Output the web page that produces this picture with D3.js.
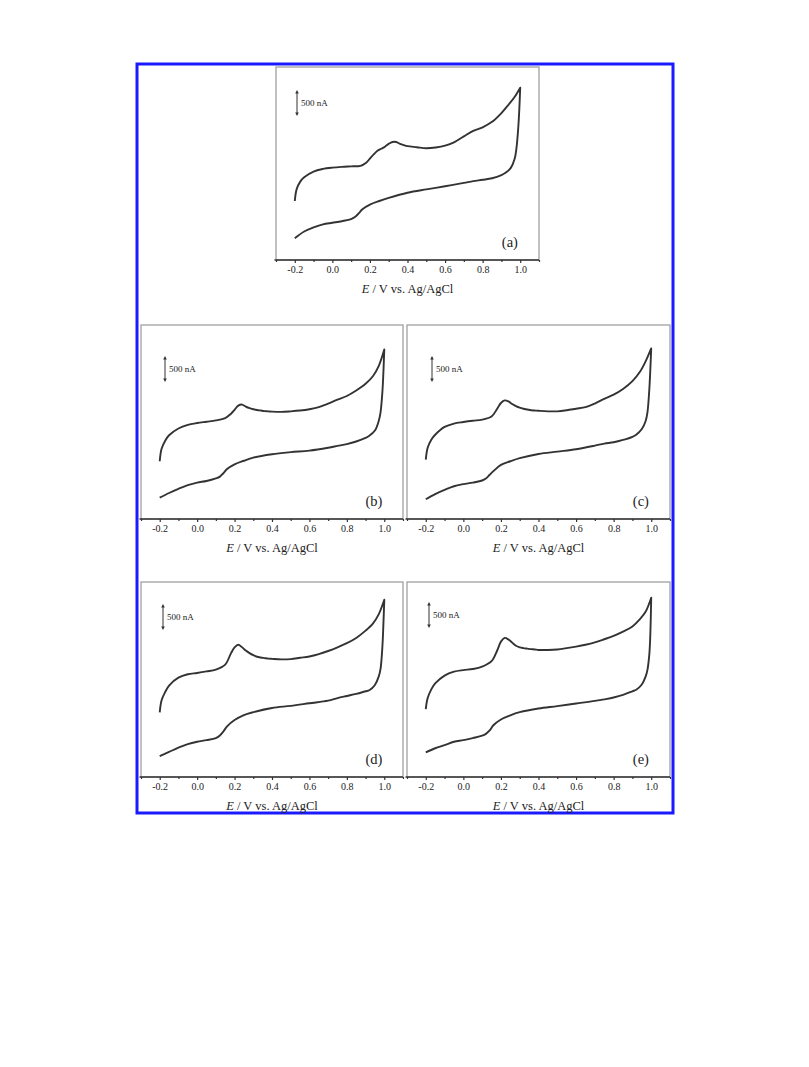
<!DOCTYPE html>
<html><head><meta charset="utf-8">
<script src="https://cdn.jsdelivr.net/npm/d3@7"></script>
<style>body{margin:0;background:#fff}</style>
</head><body><svg id="chart" width="809" height="1067"></svg>
<script>
// Potential grids (V vs. Ag/AgCl)
const fwdE = [-0.2,-0.19,-0.17,-0.15,-0.1,-0.05,0,0.05,0.1,0.15,0.18,0.2,0.22,0.24,0.26,0.28,0.3,0.32,0.34,0.36,0.38,0.4,0.45,0.5,0.55,0.6,0.65,0.7,0.75,0.8,0.85,0.9,0.94,0.97,1.0];
const revE = [1.0,0.995,0.99,0.98,0.97,0.95,0.92,0.9,0.85,0.8,0.75,0.7,0.6,0.5,0.4,0.3,0.25,0.2,0.16,0.14,0.12,0.1,0.05,0,-0.05,-0.1,-0.15,-0.2];

// Currents (µA, relative) — forward (anodic) and reverse (cathodic) scans
const aFwd = [-0.46,-0.23,-0.08,0.0,0.11,0.16,0.185,0.2,0.21,0.22,0.28,0.36,0.44,0.51,0.55,0.59,0.645,0.68,0.68,0.645,0.62,0.6,0.58,0.56,0.575,0.61,0.68,0.79,0.895,0.965,1.07,1.24,1.41,1.55,1.73];
const aRev = [1.73,1.3,0.98,0.56,0.35,0.18,0.08,0.04,-0.02,-0.05,-0.075,-0.11,-0.175,-0.235,-0.3,-0.4,-0.46,-0.53,-0.62,-0.7,-0.77,-0.81,-0.85,-0.88,-0.91,-0.97,-1.05,-1.18];
const bFwd = [-0.49,-0.25,-0.09,0.01,0.14,0.21,0.245,0.27,0.295,0.34,0.42,0.5,0.58,0.6,0.56,0.53,0.51,0.495,0.485,0.475,0.47,0.465,0.46,0.47,0.485,0.51,0.55,0.62,0.695,0.765,0.87,1.0,1.15,1.34,1.66];
const bRev = [1.66,1.2,0.85,0.45,0.28,0.1,0.0,-0.04,-0.11,-0.16,-0.195,-0.23,-0.285,-0.315,-0.355,-0.42,-0.48,-0.55,-0.64,-0.72,-0.79,-0.82,-0.87,-0.9,-0.95,-1.02,-1.1,-1.19];
const cFwd = [-0.46,-0.23,-0.07,0.02,0.17,0.235,0.265,0.29,0.31,0.37,0.52,0.63,0.68,0.66,0.61,0.57,0.54,0.52,0.505,0.49,0.485,0.48,0.47,0.47,0.49,0.52,0.55,0.62,0.71,0.79,0.9,1.05,1.23,1.43,1.68];
const cRev = [1.68,1.25,0.9,0.45,0.28,0.13,0.02,-0.02,-0.08,-0.125,-0.15,-0.19,-0.26,-0.305,-0.35,-0.43,-0.49,-0.56,-0.68,-0.75,-0.82,-0.86,-0.9,-0.93,-0.97,-1.04,-1.12,-1.22];
const dFwd = [-0.365,-0.13,0.03,0.15,0.3,0.365,0.39,0.42,0.455,0.55,0.76,0.88,0.93,0.88,0.82,0.77,0.73,0.7,0.685,0.675,0.665,0.66,0.65,0.655,0.68,0.705,0.75,0.81,0.88,0.96,1.06,1.2,1.34,1.51,1.79];
const dRev = [1.79,1.3,0.9,0.47,0.32,0.16,0.06,0.04,-0.01,-0.05,-0.09,-0.14,-0.19,-0.24,-0.28,-0.36,-0.415,-0.51,-0.63,-0.73,-0.81,-0.855,-0.895,-0.925,-0.97,-1.04,-1.12,-1.2];
const eFwd = [-0.3,-0.09,0.08,0.19,0.34,0.415,0.445,0.465,0.51,0.615,0.82,0.99,1.06,1.03,0.97,0.91,0.88,0.865,0.855,0.845,0.84,0.83,0.83,0.84,0.865,0.895,0.93,0.975,1.035,1.1,1.18,1.28,1.42,1.56,1.83];
const eRev = [1.83,1.1,0.75,0.45,0.32,0.17,0.07,0.04,-0.03,-0.08,-0.115,-0.145,-0.195,-0.245,-0.29,-0.36,-0.42,-0.5,-0.61,-0.71,-0.775,-0.81,-0.855,-0.895,-0.925,-0.99,-1.05,-1.13];

const panelLabels = ["(a)","(b)","(c)","(d)","(e)"];
const majorTicks = [-0.2,0.0,0.2,0.4,0.6,0.8,1.0];
const minorTicks = [-0.3,-0.1,0.1,0.3,0.5,0.7,0.9,1.1];
const xDomain = [-0.3,1.1];
const yDomain = [-1.6,2.13];
const scaleBarValue = 0.5;   // µA
const scaleBarText = "500 nA";
const labelE = 0.945;

const series = [[aFwd,aRev],[bFwd,bRev],[cFwd,cRev],[dFwd,dRev],[eFwd,eRev]];

// layout
const frames = [
  {x0:276,x1:539,y0:67,y1:260,bx:297,by:103},
  {x0:141,x1:403,y0:325,y1:519,bx:165,by:369},
  {x0:407,x1:670,y0:325,y1:519,bx:432,by:369},
  {x0:141,x1:403,y0:582,y1:777,bx:163,by:617},
  {x0:407,x1:670,y0:582,y1:777,bx:429,by:615}
];

const svg = d3.select("#chart");
svg.append("rect").attr("x",137).attr("y",64).attr("width",536).attr("height",749)
  .attr("fill","none").attr("stroke","#1a1aff").attr("stroke-width",3);

const serif = "'Liberation Serif','Times New Roman',serif";

frames.forEach((f,i)=>{
  const g = svg.append("g");
  const x = d3.scaleLinear().domain(xDomain).range([f.x0,f.x1]);
  const y = d3.scaleLinear().domain(yDomain).range([f.y1,f.y0]);
  // frame
  g.append("rect").attr("x",f.x0).attr("y",f.y0).attr("width",f.x1-f.x0).attr("height",f.y1-f.y0)
    .attr("fill","none").attr("stroke","#a0a0a0").attr("stroke-width",1.3);
  // x axis (major)
  const axMaj = d3.axisBottom(x).tickValues(majorTicks).tickSize(3).tickSizeOuter(0)
    .tickFormat(d3.format(".1f"));
  const ga = g.append("g").attr("transform",`translate(0,${f.y1})`).call(axMaj);
  ga.select(".domain").attr("stroke","#333").attr("stroke-width",1.3).attr("d",`M${f.x0-1.5},0H${f.x1}`);
  ga.selectAll(".tick line").attr("stroke","#333").attr("stroke-width",1.2);
  ga.selectAll(".tick text").attr("font-family",serif).attr("font-size",10).attr("fill","#222")
    .attr("y",6).text(d=>d3.format(".1f")(d).replace("−","-"));
  // minor ticks
  const axMin = d3.axisBottom(x).tickValues(minorTicks).tickSize(2).tickFormat("");
  const gm = g.append("g").attr("transform",`translate(0,${f.y1})`).call(axMin);
  gm.select(".domain").remove();
  gm.selectAll(".tick line").attr("stroke","#333").attr("stroke-width",1.2);
  // axis title
  const t = g.append("text").attr("x",(f.x0+f.x1)/2).attr("y",f.y1+33).attr("text-anchor","middle")
    .attr("font-family",serif).attr("font-size",12.5).attr("fill","#222");
  t.append("tspan").attr("font-style","italic").text("E");
  t.append("tspan").text(" / V vs. Ag/AgCl");
  // curve
  const pts = fwdE.map((e,k)=>[e,series[i][0][k]]).concat(revE.map((e,k)=>[e,series[i][1][k]]));
  const line = d3.line().x(d=>x(d[0])).y(d=>y(d[1])).curve(d3.curveCatmullRom.alpha(0.5));
  g.append("path").attr("d",line(pts)).attr("fill","none").attr("stroke","#333")
    .attr("stroke-width",1.9).attr("stroke-linejoin","round");
  // panel label
  g.append("text").attr("x",x(labelE)).attr("y",f.y1-13).attr("text-anchor","middle")
    .attr("font-family",serif).attr("font-size",14.5).attr("fill","#222").text(panelLabels[i]);
  // scale bar
  const len = y(0)-y(scaleBarValue);
  const top = f.by-len/2, bot = f.by+len/2;
  g.append("line").attr("x1",f.bx).attr("x2",f.bx).attr("y1",top+2).attr("y2",bot-2)
    .attr("stroke","#333").attr("stroke-width",1);
  g.append("path").attr("d",`M${f.bx},${top}l-1.8,3.5h3.6z M${f.bx},${bot}l-1.8,-3.5h3.6z`).attr("fill","#333");
  g.append("text").attr("x",f.bx+4).attr("y",f.by+3).attr("font-family",serif).attr("font-size",9)
    .attr("fill","#222").text(scaleBarText);
});
</script>
</body></html>
